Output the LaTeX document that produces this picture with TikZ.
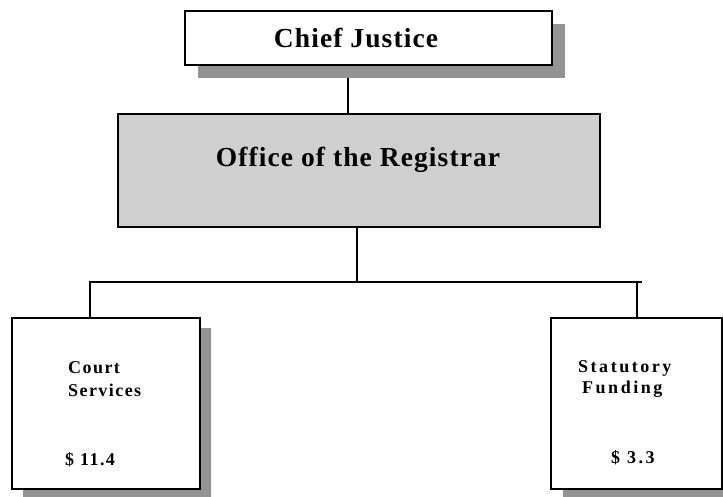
\documentclass[tikz,border=0pt]{standalone}
\usepackage{fontspec}
\setmainfont{Liberation Serif}
\newfontfamily\titlefont[LetterSpace=4]{Liberation Serif}
\newfontfamily\courtfont[LetterSpace=8]{Liberation Serif}
\newfontfamily\statfont[LetterSpace=14]{Liberation Serif}
\usetikzlibrary{backgrounds}
\definecolor{shadowgray}{HTML}{939393}
\definecolor{regfill}{HTML}{CFCFCF}
\tikzset{
  box/.style={draw=black, line width=2pt, fill=white, inner sep=0pt, anchor=north west},
  shadowbox/.style={fill=shadowgray, draw=none, inner sep=0pt, anchor=north west},
  conn/.style={draw=black, line width=1.4pt, line join=miter},
  bigtext/.style={font=\titlefont\bfseries\fontsize{27.5}{32}\selectfont, inner sep=0pt},
  courttext/.style={font=\courtfont\bfseries\fontsize{18}{21}\selectfont, inner sep=0pt, anchor=base west},
  stattext/.style={font=\statfont\bfseries\fontsize{18}{21}\selectfont, inner sep=0pt, anchor=base west}
}
\begin{document}
\begin{tikzpicture}[x=1pt,y=-1pt]
\useasboundingbox (0,0) rectangle (723,496);
% shadows
\node[shadowbox, minimum width=367pt, minimum height=54pt] (chiefsh) at (198,24) {};
\node[shadowbox, minimum width=188pt, minimum height=171pt] (courtsh) at (23,328) {};
\node[shadowbox, minimum width=172pt, minimum height=171pt] (statsh) at (563,329) {};
% boxes
\node[box, minimum width=367pt, minimum height=54pt] (chief) at (184,10) {};
\node[bigtext, anchor=base] (chieftxt) at (356,47) {Chief Justice};
\node[box, line width=1.6pt, fill=regfill, minimum width=482pt, minimum height=113pt] (registrar) at (117,113) {};
\node[bigtext, anchor=base] (regtxt) at (358,166) {Office of the Registrar};
\node[box, minimum width=188pt, minimum height=171pt] (court) at (11,317) {};
\node[box, minimum width=171pt, minimum height=171pt] (stat) at (550,317) {};
% texts
\node[courttext] (courtA) at (68,373) {Court};
\node[courttext] (courtB) at (68,396) {Services};
\node[courttext] (courtC) at (65,465) {\$ 11.4};
\node[stattext] (statA) at (578,372) {Statutory};
\node[stattext] (statB) at (582,393) {Funding};
\node[stattext] (statC) at (611,463) {\$ 3.3};
% connectors
\coordinate (jx) at (348,0);
\coordinate (rx) at (357,0);
\coordinate (cx) at (90,282);
\coordinate (sx) at (637,282);
\coordinate (busend) at (642,282);
\coordinate (bus) at (357,282);
\begin{pgfonlayer}{background}
\draw[conn] (jx |- chief.south) -- (jx |- registrar.north);
\draw[conn] (rx |- registrar.south) -- (bus);
\draw[conn] (cx |- court.north) -- (cx) -- (busend);
\draw[conn] (sx) -- (sx |- stat.north);
\end{pgfonlayer}
\end{tikzpicture}
\end{document}
